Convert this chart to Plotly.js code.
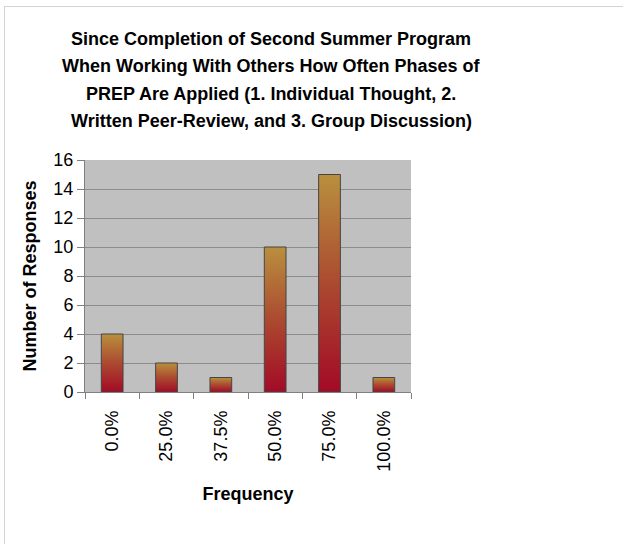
<!DOCTYPE html>
<html>
<head>
<meta charset="utf-8">
<script src="https://cdn.plot.ly/plotly-3.0.1.min.js"></script>
<style>
html,body{margin:0;padding:0;background:#fff;}
#frame{position:absolute;left:4px;top:6px;width:640px;height:560px;border-left:1px solid #d4d4d4;border-top:1px solid #d4d4d4;}
#chart{position:absolute;left:0;top:0;width:623px;height:544px;}
</style>
</head>
<body>
<div id="frame"></div>
<div id="chart"></div>
<script>
const categories = ["0.0%", "25.0%", "37.5%", "50.0%", "75.0%", "100.0%"];
const responses = [4, 2, 1, 10, 15, 1];
const yTicks = [0, 2, 4, 6, 8, 10, 12, 14, 16];
const titleLines = [
  "Since Completion of Second Summer Program",
  "When Working With Others How Often Phases of",
  "PREP Are Applied (1. Individual Thought, 2.",
  "Written Peer-Review, and 3. Group Discussion)"
];

const halfWidth = 0.2;
const gradient = [[0, '#a30a26'], [0.5, '#ab4a30'], [1, '#b9903e']];

const traces = categories.map((c, i) => ({
  type: 'scatter',
  mode: 'lines',
  x: [i - halfWidth, i - halfWidth, i + halfWidth, i + halfWidth, i - halfWidth],
  y: [0, responses[i], responses[i], 0, 0],
  fill: 'toself',
  fillgradient: {type: 'vertical', colorscale: gradient},
  line: {color: '#454545', width: 1},
  hoverinfo: 'skip',
  showlegend: false,
  xaxis: 'x',
  yaxis: 'y'
}));

traces.push({
  type: 'bar',
  x: categories,
  y: responses,
  xaxis: 'x2',
  yaxis: 'y',
  marker: {color: 'rgba(0,0,0,0)', line: {width: 0}},
  hoverinfo: 'skip',
  showlegend: false
});

const font = {family: 'Liberation Sans, Arial, sans-serif', color: '#000'};

// plot area spans pixel rows 160..392 (232 px)
const rowToPaper = r => (392 - r) / 232;
const titleRows = [39, 66.3, 93.6, 121];

const annotations = titleLines.map((t, i) => ({
  text: t,
  xref: 'paper',
  yref: 'paper',
  x: (271 - 85) / 326,
  y: rowToPaper(titleRows[i]),
  xanchor: 'center',
  yanchor: 'middle',
  showarrow: false,
  font: {family: font.family, size: 18, color: '#000', weight: 'bold'}
}));

const layout = {
  width: 623,
  height: 544,
  margin: {l: 85, r: 212, t: 160, b: 152},
  paper_bgcolor: 'rgba(0,0,0,0)',
  plot_bgcolor: '#c0c0c0',
  font: font,
  annotations: annotations,
  xaxis: {
    range: [-0.5, 5.5],
    tickmode: 'array',
    tickvals: categories.map((c, i) => i),
    ticktext: categories,
    tickangle: -90,
    ticks: '',
    ticklabelstandoff: 14,
    showgrid: false,
    zeroline: false,
    showline: false,
    tickfont: {family: font.family, size: 18, color: '#000'},
    title: {text: 'Frequency', font: {family: font.family, size: 18, color: '#000', weight: 'bold'}, standoff: 16},
    fixedrange: true
  },
  xaxis2: {
    overlaying: 'x',
    anchor: 'y',
    side: 'bottom',
    type: 'category',
    tickson: 'boundaries',
    ticks: 'outside',
    ticklen: 6,
    tickcolor: '#808080',
    showticklabels: false,
    showgrid: false,
    showline: true,
    linecolor: '#808080',
    linewidth: 1,
    zeroline: false,
    fixedrange: true
  },
  yaxis: {
    range: [0, 16],
    tickmode: 'array',
    tickvals: yTicks,
    ticks: 'outside',
    ticklen: 7,
    tickcolor: '#808080',
    showline: true,
    linecolor: '#808080',
    linewidth: 1,
    showgrid: true,
    gridcolor: '#8c8c8c',
    gridwidth: 1,
    zeroline: false,
    tickfont: {family: font.family, size: 18, color: '#000'},
    title: {text: 'Number of Responses', font: {family: font.family, size: 18, color: '#000', weight: 'bold'}, standoff: 12},
    fixedrange: true
  },
  bargap: 0.6
};

Plotly.newPlot('chart', traces, layout, {staticPlot: true, displayModeBar: false});
</script>
</body>
</html>
